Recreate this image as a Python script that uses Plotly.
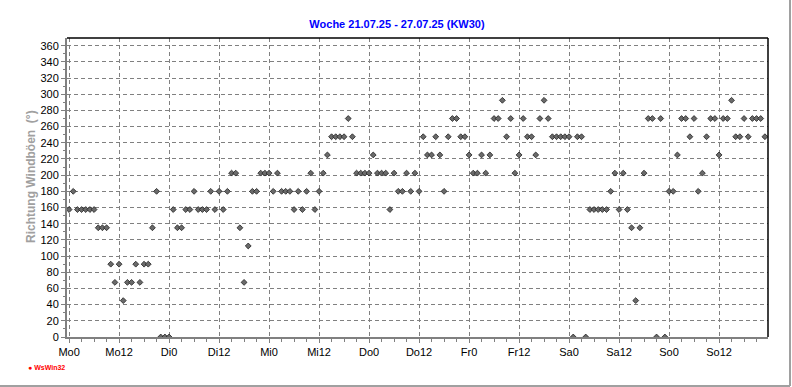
import plotly.graph_objects as go

# Hourly gust direction (degrees) per day, 24 values each
mo = [157.5, 180, 157.5, 157.5, 157.5, 157.5, 157.5, 135, 135, 135, 90, 67.5,
      90, 45, 67.5, 67.5, 90, 67.5, 90, 90, 135, 180, 0, 0]
di = [0, 157.5, 135, 135, 157.5, 157.5, 180, 157.5, 157.5, 157.5, 180, 157.5,
      180, 157.5, 180, 202.5, 202.5, 135, 67.5, 112.5, 180, 180, 202.5, 202.5]
mi = [202.5, 180, 202.5, 180, 180, 180, 157.5, 180, 157.5, 180, 202.5, 157.5,
      180, 202.5, 225, 247.5, 247.5, 247.5, 247.5, 270, 247.5, 202.5, 202.5, 202.5]
do = [202.5, 225, 202.5, 202.5, 202.5, 157.5, 202.5, 180, 180, 202.5, 180, 202.5,
      180, 247.5, 225, 225, 247.5, 225, 180, 247.5, 270, 270, 247.5, 247.5]
fr = [225, 202.5, 202.5, 225, 202.5, 225, 270, 270, 292.5, 247.5, 270, 202.5,
      225, 270, 247.5, 247.5, 225, 270, 292.5, 270, 247.5, 247.5, 247.5, 247.5]
sa = [247.5, 0, 247.5, 247.5, 0, 157.5, 157.5, 157.5, 157.5, 157.5, 180, 202.5,
      157.5, 202.5, 157.5, 135, 45, 135, 202.5, 270, 270, 0, 270, 0]
so = [180, 180, 225, 270, 270, 247.5, 270, 180, 202.5, 247.5, 270, 270,
      225, 270, 270, 292.5, 247.5, 247.5, 270, 247.5, 270, 270, 270, 247.5]

tick_hours = [0, 12, 24, 36, 48, 60, 72, 84, 96, 108, 120, 132, 144, 156]
tick_labels = ["Mo0", "Mo12", "Di0", "Di12", "Mi0", "Mi12", "Do0", "Do12",
               "Fr0", "Fr12", "Sa0", "Sa12", "So0", "So12"]
y_ticks = list(range(0, 361, 20))

directions = mo + di + mi + do + fr + sa + so
hours = list(range(len(directions)))

W, H = 792, 387
L, R, T, B = 67, 24, 38, 50
pw = W - L - R
ph = H - T - B

def px_x(p):
    return (p - L) / pw

def px_y(p):
    return (H - B - p) / ph

FONT = "Arial, Liberation Sans, sans-serif"

fig = go.Figure()
fig.add_trace(go.Scatter(
    x=hours, y=directions, mode="markers",
    marker=dict(symbol="diamond", size=4.5, color="#6a6a6a",
                line=dict(color="#202020", width=0.8)),
    hoverinfo="x+y", showlegend=False,
))

fig.update_layout(
    width=W, height=H,
    margin=dict(l=L, r=R, t=T, b=B, pad=0),
    paper_bgcolor="white", plot_bgcolor="white",
    font=dict(family=FONT, size=11, color="black"),
    title=dict(text="<b>Woche 21.07.25 - 27.07.25 (KW30)</b>",
               font=dict(family=FONT, size=11, color="#0000ff"),
               x=px_x(397), xref="paper", xanchor="center",
               y=1 - 24 / H, yanchor="middle"),
    xaxis=dict(range=[-0.5, 167.75], tickmode="array", tickvals=tick_hours,
               ticktext=tick_labels, showgrid=True, gridcolor="#808080",
               griddash="4px,3px", gridwidth=1, zeroline=False,
               showline=True, linecolor="#808080", linewidth=2,
               ticks="outside", ticklen=4, tickcolor="#808080",
               minor=dict(dtick=3, tick0=0, ticks="outside", ticklen=3,
                          tickcolor="#808080", showgrid=False),
               tickfont=dict(size=11, color="black"), fixedrange=True),
    yaxis=dict(range=[0, 369.5], tickmode="array", tickvals=y_ticks,
               showgrid=True, gridcolor="#808080", griddash="4px,3px",
               gridwidth=1, zeroline=False, showline=True,
               linecolor="#808080", linewidth=2, ticks="outside", ticklen=4,
               tickcolor="#808080",
               minor=dict(dtick=10, tick0=0, ticks="outside", ticklen=2,
                          tickcolor="#808080", showgrid=False),
               tickfont=dict(size=11, color="black"), fixedrange=True),
    shapes=[
        dict(type="line", xref="paper", yref="paper", x0=0, x1=1, y0=1, y1=1,
             line=dict(color="black", width=1.5)),
        dict(type="line", xref="paper", yref="paper", x0=1, x1=1, y0=0, y1=1,
             line=dict(color="black", width=1.5)),
        dict(type="line", xref="paper", yref="paper", x0=px_x(790), x1=px_x(790),
             y0=px_y(0), y1=px_y(386), line=dict(color="#a0a0a0", width=2)),
        dict(type="line", xref="paper", yref="paper", x0=px_x(0), x1=px_x(790),
             y0=px_y(386), y1=px_y(386), line=dict(color="#a0a0a0", width=2)),
    ],
    annotations=[
        dict(text="<b>Richtung Windböen  (°)</b>", textangle=-90,
             xref="paper", yref="paper", x=px_x(31), y=px_y(177),
             xanchor="center", yanchor="middle", showarrow=False,
             font=dict(family=FONT, size=12, color="#a0a0a0")),
        dict(text="<b>● WsWin32</b>", xref="paper", yref="paper",
             x=px_x(26), y=px_y(367), xanchor="left", yanchor="middle",
             showarrow=False, font=dict(family=FONT, size=7, color="#ff0000")),
    ],
)

fig.write_html("out.html", config={"displayModeBar": False})
